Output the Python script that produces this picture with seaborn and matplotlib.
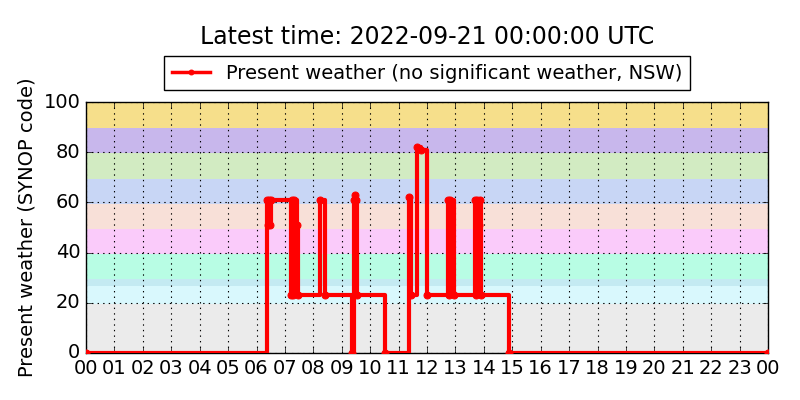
import pandas as pd
import matplotlib
matplotlib.use("Agg")
from matplotlib import pyplot as plt
import matplotlib.dates as mdates
import seaborn as sns

# observations for the day (UTC), only the moments where the code changes
day = "2022-09-20"
end_time = "2022-09-21 00:00"
times = ["00:00", "06:23", "06:25", "06:27", "06:29", "06:30",
         "07:12", "07:14", "07:17", "07:19", "07:26", "07:27",
         "08:14", "08:24",
         "09:21", "09:25", "09:27", "09:31", "09:33",
         "10:32",
         "11:22", "11:26", "11:38", "11:48", "12:00",
         "12:44", "12:46", "12:48", "12:58",
         "13:41", "13:43", "13:45", "13:49", "13:51", "13:55",
         "14:53"]
codes = [0, 61, 51, 61, 51, 61,
         23, 61, 23, 61, 51, 23,
         61, 23,
         0, 61, 63, 61, 23,
         0,
         62, 23, 82, 81, 23,
         61, 23, 61, 23,
         61, 23, 61, 51, 61, 23,
         0]
legend_label = "Present weather (no significant weather, NSW)"

# SYNOP code classes shown as background bands
band_edges = [0, 19.5, 26.5, 29.5, 39.5, 49.5, 59.5, 69.5, 79.5, 89.5, 100]
band_colors = ["#ebebeb", "#d9f8fd", "#c4eaf2", "#b8fde4", "#facbfa",
               "#f8e0d8", "#c8d6f5", "#d2ebc2", "#c8b7ec", "#f6df8b"]

df = pd.DataFrame({
    "time": pd.to_datetime([day + " " + t for t in times] + [end_time]),
    "code": codes + [codes[-1]],
})

plt.style.use("classic")
plt.rcParams.update({
    "figure.facecolor": "white",
    "savefig.facecolor": "white",
    "font.family": ["DejaVu Sans"],
    "axes.axisbelow": "line",
    "grid.color": "black",
    "grid.linestyle": ":",
    "grid.linewidth": 0.8,
})

fig = plt.figure(figsize=(8, 4), dpi=100)
ax = fig.add_axes([0.1075, 0.1175, 0.8525, 0.6275])

for lo, hi, c in zip(band_edges[:-1], band_edges[1:], band_colors):
    ax.axhspan(lo, hi, color=c, lw=0, zorder=0.5)

sns.lineplot(data=df, x="time", y="code", ax=ax, color="red", lw=3,
             marker=".", ms=10, mec="red", drawstyle="steps-post",
             estimator=None, sort=False, label=legend_label, zorder=3)

ax.set_xlim(df["time"].iloc[0], df["time"].iloc[-1])
ax.set_ylim(0, 100)
ax.set_yticks(range(0, 101, 20))
ax.xaxis.set_major_locator(mdates.HourLocator())
ax.xaxis.set_major_formatter(mdates.DateFormatter("%H"))
ax.tick_params(labelsize=14)
ax.grid(True)

ax.set_xlabel("")
ax.set_ylabel("Present weather (SYNOP code)", fontsize=14)
leg = ax.legend(loc="lower center", bbox_to_anchor=(0.5, 1.0), numpoints=1,
                fancybox=False, fontsize=14, borderaxespad=0.6)
for h in leg.get_lines():
    h.set_linewidth(2.5)
    h.set_markersize(7)
fig.suptitle("Latest time: 2022-09-21 00:00:00 UTC", fontsize=17,
             x=0.534, y=0.938)

fig.savefig("out.png", dpi=100)
